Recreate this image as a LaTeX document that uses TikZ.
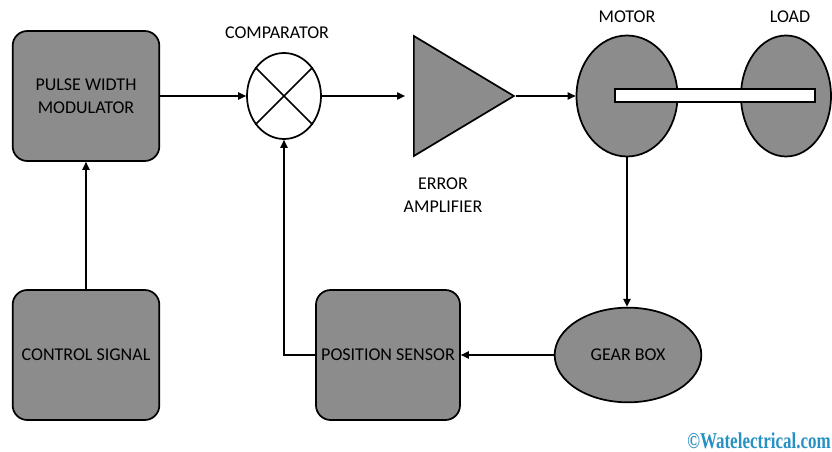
\documentclass[tikz,border=0pt]{standalone}
\usepackage{fontspec}
\setmainfont{Carlito}
\newfontfamily\markfont{Liberation Serif}
\usetikzlibrary{shapes.geometric, arrows.meta, positioning}
\definecolor{blockgray}{RGB}{140,140,140}
\definecolor{marktext}{RGB}{40,145,195}
\begin{document}
\begin{tikzpicture}[
    x=0.75pt, y=-0.75pt,
    >=Triangle,
    block/.style={draw, line width=1.3pt, fill=blockgray, rounded corners=11pt, minimum width=110pt, minimum height=97.5pt, align=center, font=\fontsize{13.5}{17}\selectfont, inner sep=1pt},
    disc/.style={draw, line width=1.3pt, fill=blockgray, ellipse, inner sep=0pt, align=center, font=\fontsize{13.5}{17}\selectfont},
    tag/.style={font=\fontsize{13.5}{17}\selectfont, align=center},
    arrow/.style={->, line width=1pt, >={Triangle[length=6pt, width=5.5pt]}},
  ]
  \useasboundingbox (0,0) rectangle (832,452);
  % forward path
  \node[block] (pwm) at (86,96) {PULSE WIDTH\\MODULATOR};
  \node[draw, line width=1.3pt, fill=white, ellipse, minimum width=55.5pt, minimum height=64.5pt, inner sep=0pt] (comp) at (284,96) {};
  \draw[line width=1.3pt] (comp.45) -- (comp.225) (comp.135) -- (comp.315);
  \node[tag] (complabel) at (277,33) {COMPARATOR};
  \node[draw, line width=1.3pt, fill=blockgray, isosceles triangle, isosceles triangle stretches, shape border rotate=0, minimum width=90pt, minimum height=75pt, inner sep=0pt, anchor=lower side] (amp) at (413,96) {};
  \node[tag] (amplabel) at (443,195) {ERROR\\AMPLIFIER};
  \node[disc, minimum width=75.75pt, minimum height=90.75pt] (motor) at (627,96) {};
  \node[disc, minimum width=67.5pt, minimum height=90.75pt] (load) at (786,96) {};
  \node[draw, line width=1.3pt, fill=white, minimum width=150pt, minimum height=9.75pt, inner sep=0pt] (shaft) at (715,95.5) {};
  \node[tag] (motorlabel) at (627,17) {MOTOR};
  \node[tag] (loadlabel) at (790,17) {LOAD};
  % lower row
  \node[block] (ctrl) at (86,355) {CONTROL SIGNAL};
  \node[block, minimum width=108pt] (sensor) at (388,355) {POSITION SENSOR};
  \node[disc, minimum width=110pt, minimum height=71pt] (gear) at (628,355) {GEAR BOX};
  % connectors
  \draw[arrow] (ctrl.north) -- (pwm.south);
  \draw[arrow] (pwm.east) -- (comp.west);
  \draw[arrow, shorten >=6pt] (comp.east) -- (amp.lower side);
  \draw[arrow] (amp.apex) -- (motor.west);
  \draw[arrow] (motor.south) -- (motor.south |- gear.north);
  \draw[arrow] (gear.west) -- (sensor.east);
  \draw[arrow] (sensor.west) -| (comp.south);
  \node[font=\markfont\bfseries\fontsize{17}{18}\selectfont, text=marktext, anchor=east, inner sep=0pt] (mark) at (831,441) {\scalebox{0.75}[1]{©Watelectrical.com}};
\end{tikzpicture}
\end{document}
